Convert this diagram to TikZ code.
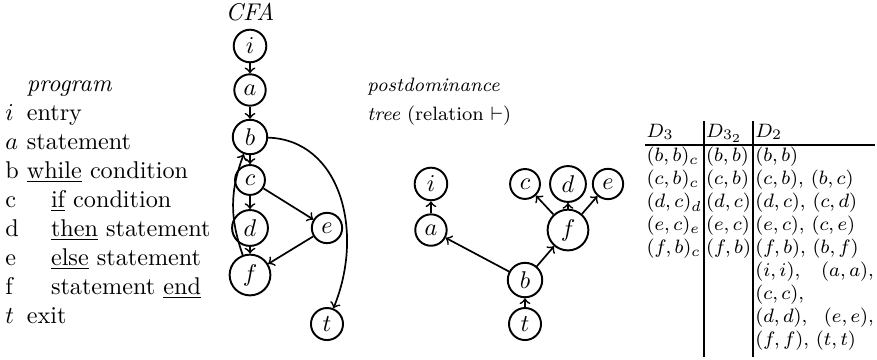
\documentclass[tikz,border=0pt]{standalone}
\usepackage{amsmath}
\usepackage{amssymb}
\usepackage{array}
\tikzset{vert/.style={circle,draw,thick,inner sep=2.2pt},
         arr/.style={->,line width=0.7pt}}

\begin{document}
\begin{tikzpicture}
  \useasboundingbox (0,0) rectangle (12.737,5.214);

  % program
  \node[anchor=base west,inner sep=0] (prog) at (0.07,3.892) {\begin{tabular}[t]{@{}l@{\ }l@{}}
      & \textit{program}\\
    $i$ & entry\\
    $a$ & statement\\
    b & \underline{while} condition\\
    c & \quad\underline{if} condition\\
    d & \quad\underline{then} statement\\
    e & \quad\underline{else} statement\\
    f & \quad statement \underline{end}\\
    $t$ & exit
  \end{tabular}};

  % CFA
  \node (cfa) at (3.631,5.044) {\textit{CFA}};
  \node[vert] (i1) at (3.631,4.546) {$i$};
  \node[vert] (a1) at (3.631,3.907) {$a$};
  \node[vert] (b1) at (3.631,3.224) {$b$};
  \node[vert] (c1) at (3.631,2.600) {$c$};
  \node[vert] (d1) at (3.631,1.903) {$d$};
  \node[vert] (e1) at (4.749,1.903) {$e$};
  \node[vert] (f1) at (3.631,1.220) {$f$};
  \node[vert] (t1) at (4.749,0.508) {$t$};
  \draw[arr] (i1) -- (a1);
  \draw[arr] (a1) -- (b1);
  \draw[arr] (b1) -- (c1);
  \draw[arr] (c1) -- (d1);
  \draw[arr] (d1) -- (f1);
  \draw[arr] (c1) -- (e1);
  \draw[arr] (e1) -- (f1);
  \draw[arr] (f1) to[bend left=20] (b1);
  \draw[arr] (b1) .. controls +(1.307,-0.044) and +(0.552,1.351) .. (t1);

  % postdominance tree
  \node[anchor=base west,inner sep=0] (pd1) at (5.33,3.892) {\footnotesize\textit{postdominance}};
  \node[anchor=base west,inner sep=0] (pd2) at (5.33,3.471) {\footnotesize\textit{tree} (relation $\vdash$)};
  \node[vert] (i2) at (6.259,2.542) {$i$};
  \node[vert] (a2) at (6.259,1.873) {$a$};
  \node[vert] (c2) at (7.625,2.542) {$c$};
  \node[vert] (d2) at (8.249,2.542) {$d$};
  \node[vert] (e2) at (8.830,2.542) {$e$};
  \node[vert] (f2) at (8.249,1.873) {$f$};
  \node[vert] (b2) at (7.625,1.147) {$b$};
  \node[vert] (t2) at (7.625,0.508) {$t$};
  \draw[arr] (a2) -- (i2);
  \draw[arr] (b2) -- (a2);
  \draw[arr] (b2) -- (f2);
  \draw[arr] (f2) -- (c2);
  \draw[arr] (f2) -- (d2);
  \draw[arr] (f2) -- (e2);
  \draw[arr] (t2) -- (b2);

  % table
  \node[anchor=base west,inner sep=0] (tab) at (9.367,3.224) {\footnotesize
    \setlength{\tabcolsep}{0.5pt}\setlength{\arrayrulewidth}{0.8pt}%
    \begin{tabular}[t]{l|l|p{49pt}}
      $D_3$ & $D_{3_2}$ & $D_2$\\ \hline
      $(b,b)_c$ & $(b,b)$ & $(b,b)$\\
      $(c,b)_c$ & $(c,b)$ & $(c,b)$, $(b,c)$\\
      $(d,c)_d$ & $(d,c)$ & $(d,c)$, $(c,d)$\\
      $(e,c)_e$ & $(e,c)$ & $(e,c)$, $(c,e)$\\
      $(f,b)_c$ & $(f,b)$ & $(f,b)$, $(b,f)$\\
       & & $(i,i)$,\hfill $(a,a)$,\\
       & & $(c,c)$,\\
       & & $(d,d)$,\hfill $(e,e)$,\\
       & & $(f,f)$, $(t,t)$\rule[-4.5pt]{0pt}{4.5pt}
    \end{tabular}};
\end{tikzpicture}
\end{document}
